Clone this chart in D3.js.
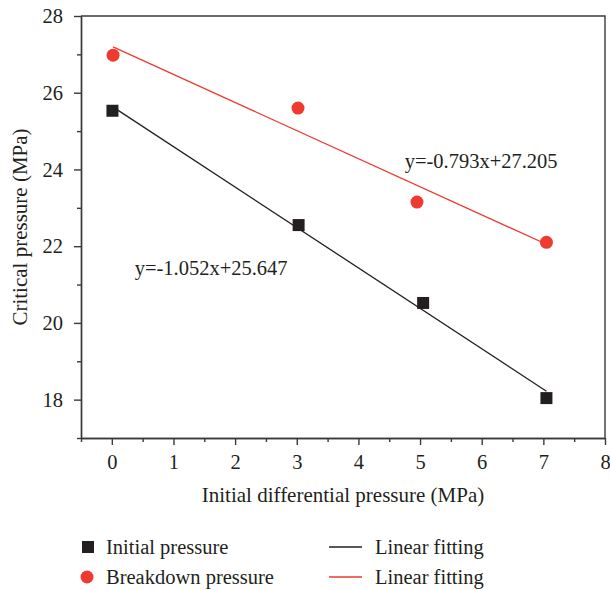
<!DOCTYPE html>
<html lang="en">
<head>
  <meta charset="UTF-8">
  <title>Critical pressure vs initial differential pressure</title>
  <style>
    body { margin: 0; background: #fff; }
    svg text { font-family: "Liberation Serif", "DejaVu Serif", serif; fill: #231f20; }
  </style>
</head>
<body>
  <svg id="chart" width="610" height="590"></svg>

  <script src="https://d3js.org/d3.v7.min.js"></script>
  <script>
    // data
    const initialX = [0.01, 3.03, 5.05, 7.05];
    const initialY = [25.53, 22.55, 20.52, 18.04];
    const breakdownX = [0.02, 3.02, 4.95, 7.05];
    const breakdownY = [26.98, 25.60, 23.15, 22.10];

    const fitNames = ["y=-1.052x+25.647", "y=-0.793x+27.205"];
    const fitLabelAt = [[0.37, 21.24], [4.75, 24.03]];

    const xTicks = [0, 1, 2, 3, 4, 5, 6, 7, 8];
    const xMinor = [-0.5, 0.5, 1.5, 2.5, 3.5, 4.5, 5.5, 6.5, 7.5];
    const yTicks = [18, 20, 22, 24, 26, 28];
    const yMinor = [17, 19, 21, 23, 25, 27];

    const black = "#231f20";
    const red = "#ee3a2f";
    const fs = "20.5px";

    const svg = d3.select("#chart");
    const mLeft = 81, mRight = 605, mTop = 16, mBottom = 438;

    const x = d3.scaleLinear().domain([-0.5, 8]).range([mLeft, mRight]);
    const y = d3.scaleLinear().domain([17, 28]).range([mBottom, mTop]);

    // least squares line through a series
    function fit(xs, ys) {
      const mx = d3.mean(xs), my = d3.mean(ys);
      const sxy = d3.sum(xs, (v, i) => (v - mx) * (ys[i] - my));
      const sxx = d3.sum(xs, v => (v - mx) * (v - mx));
      const m = sxy / sxx;
      return { m, b: my - m * mx };
    }

    // frame (top + right)
    svg.append("path")
      .attr("d", `M${mLeft},${mTop}H${mRight}V${mBottom}`)
      .attr("fill", "none")
      .attr("stroke", "#3a3a3a")
      .attr("stroke-width", 1.4);

    // axes
    const styleAxis = g => {
      g.select(".domain").attr("stroke", "#3a3a3a").attr("stroke-width", 1.4);
      g.selectAll(".tick line").attr("stroke", "#3a3a3a").attr("stroke-width", 1.4);
      g.selectAll(".tick text").attr("font-size", fs).attr("fill", black)
        .attr("font-family", '"Liberation Serif", serif');
    };

    svg.append("g")
      .attr("transform", `translate(0,${mBottom})`)
      .call(d3.axisBottom(x).tickValues(xMinor).tickSize(4).tickFormat("").tickSizeOuter(0))
      .call(styleAxis);
    svg.append("g")
      .attr("transform", `translate(0,${mBottom})`)
      .call(d3.axisBottom(x).tickValues(xTicks).tickSize(7).tickPadding(9).tickFormat(d3.format("d")).tickSizeOuter(0))
      .call(styleAxis);

    svg.append("g")
      .attr("transform", `translate(${mLeft},0)`)
      .call(d3.axisLeft(y).tickValues(yMinor).tickSize(4).tickFormat("").tickSizeOuter(0))
      .call(styleAxis);
    svg.append("g")
      .attr("transform", `translate(${mLeft},0)`)
      .call(d3.axisLeft(y).tickValues(yTicks).tickSize(7).tickPadding(11).tickFormat(d3.format("d")).tickSizeOuter(0))
      .call(styleAxis);

    // axis titles
    svg.append("text")
      .attr("x", (mLeft + mRight) / 2)
      .attr("y", 502)
      .attr("text-anchor", "middle")
      .attr("font-size", "21px")
      .text("Initial differential pressure (MPa)");

    svg.append("text")
      .attr("transform", `translate(27,${(mTop + mBottom) / 2}) rotate(-90)`)
      .attr("text-anchor", "middle")
      .attr("font-size", "21px")
      .text("Critical pressure (MPa)");

    // fitting lines
    const seriesX = [initialX, breakdownX];
    const seriesY = [initialY, breakdownY];
    const fitColors = [black, red];
    seriesX.forEach((xs, i) => {
      const { m, b } = fit(xs, seriesY[i]);
      const x0 = d3.min(xs), x1 = d3.max(xs);
      svg.append("line")
        .attr("x1", x(x0)).attr("y1", y(b + m * x0))
        .attr("x2", x(x1)).attr("y2", y(b + m * x1))
        .attr("stroke", fitColors[i])
        .attr("stroke-width", 1.3);
      svg.append("text")
        .attr("x", x(fitLabelAt[i][0]))
        .attr("y", y(fitLabelAt[i][1]))
        .attr("font-size", fs)
        .text(fitNames[i]);
    });

    // points
    const sq = 12;
    svg.append("g")
      .selectAll("rect")
      .data(initialX.map((d, i) => [d, initialY[i]]))
      .join("rect")
      .attr("x", d => x(d[0]) - sq / 2)
      .attr("y", d => y(d[1]) - sq / 2)
      .attr("width", sq)
      .attr("height", sq)
      .attr("fill", black);

    svg.append("g")
      .selectAll("circle")
      .data(breakdownX.map((d, i) => [d, breakdownY[i]]))
      .join("circle")
      .attr("cx", d => x(d[0]))
      .attr("cy", d => y(d[1]))
      .attr("r", 6.5)
      .attr("fill", red);

    // legend
    const legend = svg.append("g");
    legend.append("rect").attr("x", 82).attr("y", 541).attr("width", 12).attr("height", 12).attr("fill", black);
    legend.append("text").attr("x", 106).attr("y", 554).attr("font-size", fs).text("Initial pressure");
    legend.append("circle").attr("cx", 87).attr("cy", 577).attr("r", 6.5).attr("fill", red);
    legend.append("text").attr("x", 106).attr("y", 584).attr("font-size", fs).text("Breakdown pressure");

    legend.append("line").attr("x1", 329).attr("x2", 362).attr("y1", 547).attr("y2", 547)
      .attr("stroke", black).attr("stroke-width", 1.3);
    legend.append("text").attr("x", 375).attr("y", 554).attr("font-size", fs).text("Linear fitting");
    legend.append("line").attr("x1", 329).attr("x2", 362).attr("y1", 577).attr("y2", 577)
      .attr("stroke", red).attr("stroke-width", 1.3);
    legend.append("text").attr("x", 375).attr("y", 584).attr("font-size", fs).text("Linear fitting");
  </script>
</body>
</html>
